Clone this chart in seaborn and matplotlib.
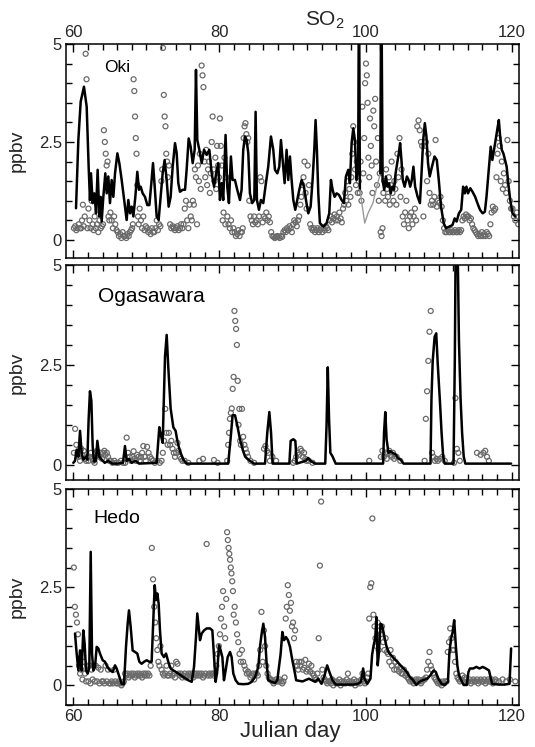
import numpy as np
import pandas as pd
import matplotlib
matplotlib.use("Agg")
import matplotlib.pyplot as plt
import seaborn as sns
from matplotlib.ticker import MultipleLocator, FixedLocator

# ---------------- data ----------------
# Model SO2 (ppbv) as (Julian day, value) points
oki_model = [
    (60.37, 0.81), (60.69, 2.55), (61.01, 3.53), (61.46, 3.91), (61.83, 3.40), (62.10, 1.87),
    (62.28, 1.02), (62.42, 1.70), (62.65, 0.94), (62.88, 1.19), (63.11, 0.68), (63.33, 1.79),
    (63.56, 0.60), (63.74, 1.10), (63.88, 0.47), (64.11, 1.10), (64.38, 1.70), (64.57, 1.19),
    (64.79, 1.62), (65.02, 0.94), (65.25, 1.53), (65.48, 1.10), (65.71, 1.70), (66.03, 2.21),
    (66.30, 1.96), (66.62, 1.53), (66.85, 1.19), (67.07, 0.85), (67.30, 0.51), (67.53, 1.02),
    (67.76, 0.68), (67.99, 0.85), (68.22, 0.60), (68.49, 1.10), (68.76, 1.74), (68.99, 1.28),
    (69.22, 1.36), (69.49, 1.19), (69.81, 1.10), (70.13, 0.89), (70.41, 0.89), (70.68, 1.45),
    (70.91, 1.96), (71.14, 1.36), (71.41, 0.60), (71.68, 0.51), (71.96, 1.10), (72.23, 1.70),
    (72.50, 2.04), (72.78, 1.53), (73.05, 0.85), (73.32, 1.10), (73.60, 1.87), (73.92, 2.47),
    (74.15, 2.21), (74.37, 1.45), (74.60, 1.23), (74.97, 1.28), (75.29, 1.28), (75.51, 1.79),
    (75.79, 2.59), (76.06, 2.38), (76.34, 1.96), (76.61, 2.30), (76.79, 4.34), (76.97, 2.55),
    (77.25, 2.30), (77.57, 1.96), (77.89, 2.30), (78.25, 2.17), (78.62, 2.30), (78.94, 1.70),
    (79.26, 1.36), (79.55, 1.70), (79.84, 1.96), (80.07, 1.02), (80.30, 1.45), (80.52, 1.02),
    (80.84, 2.68), (81.07, 1.36), (81.30, 0.94), (81.57, 2.13), (81.80, 1.53), (82.12, 1.53),
    (82.44, 1.28), (82.81, 1.02), (83.03, 1.28), (83.26, 2.30), (83.49, 2.64), (83.72, 2.55),
    (83.95, 2.21), (84.17, 1.19), (84.49, 0.94), (84.77, 1.02), (84.95, 3.27), (85.13, 1.02),
    (85.41, 0.77), (85.68, 1.02), (86.00, 0.94), (86.36, 1.45), (86.68, 1.87), (87.05, 2.64),
    (87.37, 2.30), (87.60, 1.79), (87.92, 1.70), (88.19, 1.87), (88.42, 2.55), (88.65, 2.04),
    (88.92, 1.45), (89.19, 2.30), (89.42, 1.53), (89.65, 2.13), (89.88, 1.53), (90.11, 1.02),
    (90.38, 0.77), (90.65, 1.02), (90.93, 1.28), (91.25, 1.53), (91.57, 1.36), (91.84, 1.02),
    (92.16, 0.68), (92.48, 0.85), (92.75, 1.53), (92.98, 2.30), (93.16, 3.06), (93.34, 2.30),
    (93.53, 1.19), (93.75, 0.43), (94.21, 0.34), (94.67, 0.43), (95.03, 0.68), (95.26, 1.53),
    (95.49, 1.28), (95.76, 1.10), (96.04, 1.19), (96.36, 1.15), (96.72, 1.02), (97.04, 0.94),
    (97.31, 1.62), (97.63, 1.79), (97.86, 1.45), (98.09, 2.47), (98.32, 2.85), (98.54, 2.55),
    (98.77, 1.53), (98.99, 1.87), (99.10, 7.00), (99.22, 1.28), (99.89, 0.43), (100.33, 0.68),
    (101.00, 0.94), (101.66, 1.45), (102.02, 1.70), (102.15, 7.00), (102.33, 1.53), (102.55, 1.28),
    (102.78, 1.62), (103.00, 1.36), (103.22, 1.45), (103.44, 1.19), (103.66, 1.36), (103.89, 1.28),
    (104.11, 1.70), (104.33, 1.96), (104.55, 2.21), (104.73, 2.47), (104.91, 2.04), (105.09, 1.53),
    (105.35, 1.36), (105.66, 1.62), (105.89, 1.53), (106.11, 1.36), (106.33, 1.53), (106.55, 1.87),
    (106.78, 1.36), (107.13, 1.10), (107.44, 0.94), (107.66, 1.70), (107.89, 2.55), (108.11, 2.98),
    (108.33, 2.64), (108.55, 1.96), (108.78, 1.62), (109.09, 1.87), (109.44, 2.13), (109.75, 2.04),
    (110.02, 1.53), (110.33, 0.85), (110.69, 0.43), (111.00, 0.30), (111.44, 0.34), (111.89, 0.38),
    (112.20, 0.55), (112.46, 0.47), (112.78, 0.68), (113.09, 0.77), (113.35, 1.36), (113.58, 1.19),
    (113.80, 1.36), (114.02, 1.19), (114.33, 1.32), (114.64, 1.23), (115.00, 1.10), (115.31, 0.94),
    (115.66, 0.77), (116.02, 0.68), (116.33, 0.72), (116.55, 1.10), (116.86, 1.79), (117.13, 2.38),
    (117.35, 2.04), (117.58, 2.30), (117.80, 2.55), (118.02, 2.81), (118.24, 3.06), (118.42, 2.64),
    (118.64, 2.30), (118.86, 2.21), (119.09, 2.04), (119.31, 1.87), (119.53, 1.45), (119.80, 1.02),
    (120.11, 0.68), (120.46, 0.60),
]
# stretch of the Oki model trace printed faintly between the two off-scale peaks
oki_faint_span = (99.22, 102.02)

ogasawara_model = [
    (60.00, 0.05), (60.23, 0.10), (60.46, 0.38), (60.69, 0.20), (60.92, 0.85), (61.14, 0.30),
    (61.37, 0.13), (61.74, 0.20), (61.92, 0.13), (62.10, 1.15), (62.28, 1.84), (62.47, 1.60),
    (62.65, 0.47), (62.83, 0.08), (63.10, 0.10), (63.29, 0.60), (63.56, 0.20), (63.88, 0.13),
    (64.30, 0.05), (64.80, 0.10), (65.30, 0.03), (66.00, 0.03), (66.80, 0.05), (67.07, 0.47),
    (67.30, 0.10), (67.60, 0.15), (68.00, 0.05), (68.50, 0.10), (69.00, 0.03), (71.41, 0.05),
    (71.77, 0.94), (72.00, 0.73), (72.23, 0.55), (72.55, 2.70), (72.78, 3.25), (73.00, 2.44),
    (73.32, 1.41), (73.69, 0.94), (74.00, 0.85), (74.28, 0.56), (74.60, 0.34), (75.06, 0.13),
    (75.50, 0.03), (81.20, 0.03), (81.52, 0.64), (81.80, 1.24), (82.13, 1.24), (82.45, 0.98),
    (82.81, 0.64), (83.18, 0.38), (83.50, 0.21), (83.95, 0.13), (84.73, 0.03), (86.24, 0.03),
    (86.55, 0.81), (86.83, 1.32), (87.06, 0.81), (87.28, 0.03), (89.57, 0.03), (89.75, 0.60),
    (90.11, 0.64), (90.39, 0.60), (90.57, 0.03), (91.80, 0.10), (92.15, 0.17), (92.45, 0.10),
    (93.10, 0.03), (94.48, 0.03), (94.66, 0.98), (94.83, 2.44), (95.00, 1.16), (95.18, 0.30),
    (95.48, 0.21), (95.91, 0.03), (102.40, 0.03), (102.53, 0.81), (102.70, 1.32), (102.88, 0.64),
    (103.13, 0.30), (103.39, 0.34), (103.70, 0.30), (104.13, 0.26), (104.43, 0.17), (104.78, 0.13),
    (105.21, 0.03), (108.89, 0.03), (109.02, 1.67), (109.19, 2.60), (109.45, 3.20), (109.67, 3.29),
    (109.88, 2.52), (110.18, 1.58), (110.40, 0.81), (110.62, 0.21), (110.83, 0.03), (112.04, 0.03),
    (112.22, 2.70), (112.35, 6.00), (112.56, 6.00), (112.78, 3.12), (113.00, 1.67), (113.21, 0.81),
    (113.43, 0.21), (113.65, 0.03), (119.92, 0.03),
]

hedo_model = [
    (60.23, 1.32), (60.46, 0.81), (60.69, 0.38), (60.92, 0.89), (61.14, 0.38), (61.37, 1.40),
    (61.55, 1.06), (61.74, 0.38), (61.97, 0.30), (62.19, 0.47), (62.38, 3.40), (62.56, 0.81),
    (62.74, 0.38), (62.97, 0.47), (63.20, 0.98), (63.43, 0.94), (63.65, 0.81), (64.02, 0.64),
    (64.34, 0.60), (64.66, 0.47), (65.02, 0.38), (65.39, 0.34), (65.71, 0.51), (65.93, 0.43),
    (66.16, 0.30), (66.39, 0.17), (66.62, 0.04), (66.94, 0.03), (67.21, 0.98), (67.44, 1.57),
    (67.62, 1.91), (67.85, 1.49), (68.12, 0.89), (68.44, 0.85), (68.76, 0.81), (69.04, 0.60),
    (69.36, 0.55), (69.68, 0.60), (70.04, 0.64), (70.41, 0.60), (70.72, 0.60), (70.95, 1.66),
    (71.14, 2.55), (71.32, 2.17), (71.50, 2.34), (71.68, 2.08), (71.86, 1.40), (72.09, 0.81),
    (72.41, 0.72), (72.69, 0.81), (73.00, 0.60), (73.32, 0.43), (73.69, 0.38), (74.05, 0.34),
    (74.37, 0.30), (74.69, 0.26), (75.06, 0.21), (75.42, 0.17), (75.74, 0.13), (76.20, 0.09),
    (76.52, 0.47), (76.79, 1.23), (76.97, 1.83), (77.15, 1.49), (77.34, 1.15), (77.57, 1.32),
    (77.89, 1.40), (78.25, 1.45), (78.71, 1.45), (79.03, 1.40), (79.26, 0.72), (79.48, 0.09),
    (79.71, 0.38), (79.94, 1.02), (80.17, 0.89), (80.40, 0.72), (80.62, 0.13), (80.85, 0.38),
    (81.13, 0.72), (81.45, 0.85), (81.67, 0.72), (81.90, 0.30), (82.22, 0.13), (82.59, 0.04),
    (83.27, 0.03), (83.95, 0.04), (84.41, 0.09), (84.87, 0.21), (85.32, 0.47), (85.55, 0.98),
    (85.78, 1.32), (86.01, 1.57), (86.24, 1.23), (86.46, 0.55), (86.69, 0.13), (87.15, 0.09),
    (87.60, 0.06), (87.92, 0.13), (88.15, 0.47), (88.38, 0.81), (88.61, 1.36), (88.84, 1.15),
    (89.11, 1.23), (89.38, 1.15), (89.66, 0.98), (89.98, 0.64), (90.34, 0.30), (90.50, 0.13),
    (91.37, 0.10), (92.24, 0.17), (93.10, 0.09), (93.53, 0.17), (93.97, 0.04), (94.40, 0.26),
    (94.74, 0.51), (95.05, 0.34), (95.48, 0.13), (95.91, 0.02), (98.29, 0.02), (98.94, 0.04),
    (99.37, 0.09), (99.67, 0.43), (99.85, 0.17), (100.24, 0.04), (100.67, 0.17), (100.89, 0.77),
    (101.10, 1.02), (101.32, 1.19), (101.49, 1.74), (101.66, 0.51), (101.84, 0.85), (102.05, 1.57),
    (102.27, 1.53), (102.53, 1.28), (102.83, 1.02), (103.13, 0.85), (103.48, 0.77), (103.91, 0.68),
    (104.35, 0.60), (104.78, 0.51), (105.21, 0.43), (105.64, 0.34), (106.08, 0.21), (106.51, 0.13),
    (106.94, 0.01), (107.37, 0.09), (107.81, 0.13), (108.45, 0.17), (108.89, 0.26), (109.32, 0.38),
    (109.62, 0.34), (109.97, 0.17), (110.40, 0.04), (110.83, 0.01), (111.27, 0.09), (111.48, 0.85),
    (111.70, 1.19), (111.92, 1.36), (112.13, 1.66), (112.35, 1.02), (112.56, 0.51), (112.78, 0.26),
    (113.00, 0.17), (113.43, 0.01), (113.86, 0.01), (114.08, 0.34), (114.29, 0.43), (114.73, 0.43),
    (115.16, 0.47), (115.60, 0.43), (116.03, 0.47), (116.46, 0.43), (116.89, 0.38), (117.32, 0.04),
    (118.19, 0.02), (119.05, 0.02), (119.70, 0.04), (119.92, 0.94),
]

# Observed SO2 (ppbv): readings within each Julian day, in time order
oki_obs = {
    60: [0.30, 0.35, 0.25, 0.30, 0.40, 0.30],
    61: [0.30, 0.50, 0.90, 0.35, 0.60, 4.75, 4.10, 0.30],
    62: [0.80, 0.50, 0.30, 1.00, 0.40, 0.25, 0.60],
    63: [0.30, 0.40, 0.20, 0.50, 0.30, 0.35],
    64: [0.40, 2.80, 2.50, 2.20, 1.90, 2.00, 0.60, 0.50],
    65: [0.70, 0.50, 0.30, 0.60, 0.40, 0.25],
    66: [0.20, 0.10, 0.15, 0.05, 0.20, 0.10],
    67: [0.10, 0.05, 0.15, 0.10, 0.20, 0.25],
    68: [0.30, 0.40, 4.10, 3.80, 3.15, 2.60, 2.20, 1.40, 0.60, 0.40],
    69: [0.80, 0.50, 0.30, 0.60, 0.25, 0.35],
    70: [0.30, 0.20, 0.25, 0.15, 0.30, 0.20],
    71: [0.20, 0.30, 0.50, 0.25, 0.40, 0.35],
    72: [1.50, 1.80, 4.90, 3.70, 3.15, 2.90, 2.20, 2.00, 1.60],
    73: [1.90, 0.40, 0.30, 0.35, 0.30, 0.25],
    74: [0.30, 0.35, 0.25, 0.30, 0.40, 0.30],
    75: [0.40, 0.80, 1.00, 0.50, 0.30, 0.90],
    76: [0.60, 0.50, 1.00, 0.90, 1.80, 1.60, 0.40],
    77: [1.90, 1.50, 2.20, 1.30, 4.45, 4.20, 3.90, 2.00],
    78: [1.60, 2.30, 1.40, 1.80, 2.00, 1.20, 1.70, 2.50],
    79: [3.15, 1.80, 1.50, 2.10, 1.30, 2.40, 1.90, 1.60],
    80: [3.10, 2.40, 1.90, 0.50, 0.70, 2.10, 0.40, 1.60],
    81: [0.60, 0.40, 0.30, 0.50, 0.20, 0.30],
    82: [0.20, 0.10, 0.15, 0.25, 0.10, 0.20],
    83: [0.20, 0.30, 2.60, 2.90, 2.98, 2.70, 2.50, 2.60],
    84: [1.00, 0.60, 0.50, 0.40, 0.60, 0.45],
    85: [0.50, 0.40, 0.60, 1.60, 1.50, 0.45],
    86: [0.60, 0.55, 0.70, 0.50, 0.60, 0.45],
    87: [0.20, 0.10, 0.08, 0.05, 0.08, 0.10],
    88: [0.08, 0.05, 0.10, 0.08, 0.20, 0.25],
    89: [0.20, 0.30, 0.25, 0.35, 0.30, 0.20],
    90: [0.40, 0.50, 0.45, 0.35, 0.50, 0.60],
    91: [0.90, 1.10, 1.40, 1.60, 2.00, 1.20, 0.80],
    92: [1.90, 1.40, 0.40, 0.30, 0.25, 0.30],
    93: [0.20, 0.25, 0.30, 0.20, 0.25, 0.30],
    94: [0.20, 0.30, 0.25, 0.35, 0.30, 0.25],
    95: [0.50, 0.60, 0.45, 0.55, 0.65, 0.50],
    96: [0.60, 0.50, 0.70, 0.55, 0.45, 0.80],
    97: [0.90, 1.20, 1.00, 1.50, 0.90, 1.30, 1.10],
    98: [1.60, 2.20, 2.90, 2.50, 1.80, 1.40, 2.00, 1.20],
    99: [1.50, 1.20, 2.00, 1.00, 3.40, 1.70, 2.60, 4.00],
    100: [4.50, 4.20, 3.50, 2.10, 1.60, 3.10, 2.40, 1.90, 1.20],
    101: [3.30, 2.90, 3.60, 2.00, 1.40, 2.60, 1.00, 1.70],
    102: [0.20, 0.10, 0.30, 1.20, 1.50, 1.00, 1.80, 1.30],
    103: [1.10, 1.60, 0.90, 1.40, 2.00, 1.20, 1.00, 1.50],
    104: [1.30, 0.90, 2.20, 1.60, 2.60, 1.10, 1.80],
    105: [0.60, 0.40, 0.70, 1.00, 0.50, 0.30],
    106: [0.60, 0.70, 0.40, 0.60, 0.80, 0.50],
    107: [2.90, 3.05, 2.80, 2.50, 2.40, 0.60],
    108: [2.40, 2.50, 1.50, 2.20, 1.20, 0.90],
    109: [1.00, 0.90, 1.10, 2.55, 0.85, 1.00],
    110: [0.95, 1.10, 0.85, 0.50, 0.30, 0.20],
    111: [0.20, 0.25, 0.20, 0.20, 0.25, 0.20],
    112: [0.20, 0.25, 0.20, 0.20, 0.25, 0.20],
    113: [0.25, 0.50, 0.60, 0.55, 0.65, 0.60],
    114: [0.60, 0.50, 0.55, 0.40, 0.30, 0.25],
    115: [0.20, 0.15, 0.10, 0.15, 0.10, 0.20],
    116: [0.10, 0.15, 0.10, 0.20, 0.15, 0.10],
    117: [0.40, 0.70, 0.85, 0.75, 0.80, 1.60],
    118: [2.20, 2.60, 2.40, 1.50, 2.00, 1.30, 1.70],
    119: [1.40, 1.20, 2.55, 1.50, 1.00, 0.80],
    120: [0.80, 0.60, 0.50, 0.70, 0.40],
}

ogasawara_obs = {
    60: [0.30, 0.90, 0.50, 0.30, 0.20, 0.10],
    61: [0.40, 0.25, 0.35, 0.15, 0.10, 0.20],
    62: [0.10, 0.20, 0.30, 0.15, 0.10, 0.05],
    63: [0.30, 0.35, 0.25, 0.20, 0.30, 0.15],
    64: [0.30, 0.35, 0.25, 0.30, 0.20, 0.10],
    65: [0.10, 0.05, 0.10, 0.05],
    66: [0.05, 0.10, 0.05],
    67: [0.05, 0.68, 0.30, 0.20, 0.10],
    68: [0.20, 0.34, 0.15, 0.10, 0.25, 0.20],
    69: [0.10, 0.20, 0.30, 0.47, 0.20, 0.10],
    70: [0.45, 0.30, 0.20, 0.15, 0.10],
    71: [0.05, 0.10, 0.05],
    72: [0.10, 0.30, 0.60, 1.40, 0.80, 0.50],
    73: [0.80, 0.50, 0.60, 0.40, 0.30, 0.20],
    74: [0.30, 0.55, 0.35, 0.20, 0.15, 0.10],
    75: [0.10, 0.05],
    77: [0.10, 0.15],
    79: [0.12, 0.05],
    81: [0.10, 0.50, 0.80, 1.15, 1.30, 1.41, 1.90, 2.20],
    82: [3.85, 3.60, 3.40, 3.00, 2.10, 1.00, 1.40, 0.60, 0.50],
    83: [1.40, 0.70, 0.50, 0.40, 0.30, 0.20],
    84: [0.10, 0.05],
    86: [0.40, 0.47, 0.35, 0.30, 0.10],
    87: [0.20, 0.10],
    90: [0.05, 0.10, 0.20, 0.30, 0.25],
    91: [0.40, 0.35, 0.20, 0.30, 0.15, 0.10],
    92: [0.10, 0.05],
    100: [0.10],
    102: [0.20, 0.35, 0.20, 0.30, 0.15],
    103: [0.30, 0.35, 0.25, 0.20, 0.30, 0.15],
    104: [0.20, 0.10],
    108: [0.10, 1.15, 1.84, 2.60, 3.33, 3.85],
    109: [0.30, 0.20, 0.10, 0.15, 0.10],
    110: [0.15, 0.20, 0.10],
    112: [0.05, 1.67, 0.40, 0.30, 0.10],
    115: [0.30, 0.25],
    116: [0.30, 0.35, 0.20, 0.10],
}

hedo_obs = {
    60: [3.00, 2.00, 1.80, 1.60, 1.30, 0.50, 0.30],
    61: [0.40, 0.15, 0.60, 0.30, 0.10, 0.50],
    62: [0.10, 0.50, 0.05, 0.40, 0.15, 0.50, 0.10],
    63: [0.50, 0.10, 0.45, 0.05, 0.40, 0.10],
    64: [0.10, 0.05, 0.50, 0.10, 0.40, 0.05],
    65: [0.05, 0.10, 0.05, 0.40, 0.10, 0.05],
    66: [0.05, 0.10, 0.05, 0.00, 0.05, 0.10],
    67: [0.30, 0.25, 0.30, 0.20, 0.25, 0.30],
    68: [0.25, 0.30, 0.20, 0.25, 0.30, 0.25],
    69: [0.30, 0.25, 0.20, 0.30, 0.25, 0.30],
    70: [0.25, 0.30, 0.25, 0.50, 3.50, 2.70],
    71: [2.00, 1.60, 1.20, 0.90, 0.60, 0.50, 1.00],
    72: [0.40, 0.30, 0.25, 0.30, 0.50, 0.25],
    73: [0.25, 0.30, 0.50, 0.25, 0.30, 0.20],
    74: [0.60, 0.55, 0.30, 0.25, 0.30, 0.20],
    75: [0.25, 0.30, 0.20, 0.25, 0.30, 0.25],
    76: [0.30, 0.25, 0.20, 0.30, 0.25, 0.30],
    77: [0.25, 0.30, 0.25, 0.30, 0.20, 0.25],
    78: [0.30, 3.60, 0.25, 0.30, 0.25, 0.30],
    79: [0.30, 0.25, 0.30, 0.50, 0.80, 1.00],
    80: [1.30, 1.70, 2.00, 2.40, 1.50, 1.20, 2.20],
    81: [3.90, 3.70, 3.50, 3.35, 3.20, 3.00, 2.85, 2.65, 2.40, 1.80],
    82: [2.00, 1.60, 1.30, 1.10, 0.80, 0.60],
    83: [0.90, 0.60, 0.50, 0.40, 0.30, 0.35],
    84: [0.30, 0.20, 0.25, 0.30, 0.15, 0.30],
    85: [0.30, 0.25, 0.50, 0.90, 1.87, 0.60],
    86: [1.40, 1.00, 0.50, 0.30, 0.20, 0.15],
    87: [0.15, 0.10, 0.05, 0.10, 0.15, 0.10],
    88: [0.10, 0.15, 0.10, 0.05, 0.10, 0.20],
    89: [1.70, 2.00, 2.55, 2.30, 1.90, 2.10, 1.50],
    90: [1.60, 1.20, 1.40, 0.60, 0.50, 0.40, 0.60],
    91: [0.50, 0.60, 0.40, 0.45, 0.65, 0.35],
    92: [0.40, 0.55, 0.35, 0.50, 0.30, 0.25],
    93: [0.20, 0.15, 0.30, 1.20, 3.05, 4.68],
    94: [0.40, 0.20, 0.15, 0.10, 0.05, 0.10],
    95: [0.10, 0.05, 0.15, 0.00, 0.10, 0.05],
    96: [0.10, 0.05, 0.15, 0.00, 0.10, 0.05],
    97: [0.10, 0.05, 0.15, 0.30, 0.10, 0.05],
    98: [0.10, 0.05, 0.15, 0.00, 0.10, 0.05],
    99: [0.10, 0.05, 0.15, 0.30, 0.10, 0.05],
    100: [0.10, 0.20, 0.30, 1.70, 2.50, 2.60, 4.25],
    101: [1.80, 1.50, 1.20, 1.00, 1.60, 0.90, 1.40],
    102: [1.30, 1.50, 1.10, 0.90, 1.20, 0.85],
    103: [0.80, 0.60, 0.90, 0.50, 0.70, 0.40],
    104: [0.60, 0.40, 0.50, 0.35, 0.45, 0.30],
    105: [0.30, 0.40, 0.25, 0.30, 0.20, 0.15],
    106: [0.10, 0.15, 0.10, 0.05, 0.10, 0.15],
    107: [0.10, 0.15, 0.10, 0.05, 0.10, 0.15],
    108: [0.15, 0.20, 0.40, 0.60, 0.85, 0.50],
    109: [0.40, 0.30, 0.20, 0.15, 0.10, 0.05],
    110: [0.10, 0.05, 0.00, 0.10, 0.05, 0.10],
    111: [0.10, 0.85, 1.10, 1.45, 1.20, 0.90],
    112: [0.90, 0.60, 0.30, 0.20, 0.15, 0.10],
    113: [0.15, 0.25, 0.10, 0.20, 0.15, 0.10],
    114: [0.10, 0.15, 0.05, 0.10, 0.15, 0.10],
    115: [0.10, 0.15, 0.05, 0.10, 0.15, 0.10],
    116: [0.10, 0.15, 0.05, 0.10, 0.15, 0.10],
    117: [0.10, 0.15, 0.05, 0.10, 0.15, 0.10],
    118: [0.10, 0.15],
    119: [0.10, 0.15],
    120: [0.10],
}

stations = ["Oki", "Ogasawara", "Hedo"]
models = [oki_model, ogasawara_model, hedo_model]
faint_spans = [oki_faint_span, None, None]
observations = [oki_obs, ogasawara_obs, hedo_obs]
x_tick_labels = [60, 80, 100, 120]
y_tick_labels = [0, 2.5, 5]


def obs_frame(by_day):
    rows = []
    for day, vals in by_day.items():
        n = len(vals)
        for i, v in enumerate(vals):
            rows.append((day + (i + 0.5) / n, v))
    return pd.DataFrame(rows, columns=["day", "ppbv"])


def model_frame(points):
    return pd.DataFrame(points, columns=["day", "ppbv"])


# ---------------- style ----------------
sns.set_style("ticks")
plt.rcParams["font.family"] = ["Liberation Sans", "DejaVu Sans"]
plt.rcParams["mathtext.fontset"] = "custom"
plt.rcParams["mathtext.rm"] = "Liberation Sans"

fig = plt.figure(figsize=(5.35, 7.47), dpi=100)

W = 535.0
H = 747.0
left, right = 66, 519
panel_rows = [(44, 258), (265, 480), (489, 705)]
ylims = [(-0.46, 5), (-0.38, 5), (-0.5, 5)]
name_pos = [(0.085, 0.89, 12.5), (0.07, 0.855, 15), (0.06, 0.865, 14)]

axes = []
for k, (top, bot) in enumerate(panel_rows):
    ax = fig.add_axes([left / W, 1 - bot / H, (right - left) / W, (bot - top) / H])
    axes.append(ax)

    obs = obs_frame(observations[k])
    sns.scatterplot(data=obs, x="day", y="ppbv", ax=ax, marker="o", s=13,
                    linewidth=0.9, legend=False, zorder=2)
    pc = ax.collections[-1]
    pc.set_facecolor("none")
    pc.set_edgecolor("#6a6a6a")

    mod = model_frame(models[k])
    span = faint_spans[k]
    if span is None:
        pieces = [(mod, "black", 1.8)]
    else:
        a, b = span
        pieces = [(mod[mod.day <= a], "black", 1.8),
                  (mod[(mod.day >= a) & (mod.day <= b)], "#9a9a9a", 1.0),
                  (mod[mod.day >= b], "black", 1.8)]
    for part, col, lw in pieces:
        sns.lineplot(data=part, x="day", y="ppbv", ax=ax, sort=False, estimator=None,
                     color=col, linewidth=lw, legend=False, zorder=3)

    ax.set_xlim(59, 121)
    ax.set_ylim(*ylims[k])
    ax.xaxis.set_major_locator(FixedLocator(x_tick_labels))
    ax.xaxis.set_minor_locator(MultipleLocator(2))
    ax.yaxis.set_major_locator(FixedLocator(y_tick_labels))
    ax.yaxis.set_minor_locator(MultipleLocator(0.5))
    ax.set_yticklabels(["0", "2.5", "5"])
    ax.tick_params(which="both", direction="in", top=True, right=True,
                   labelsize=12, pad=3, width=1.0, color="black")
    ax.tick_params(which="major", length=6)
    ax.tick_params(which="minor", length=4)
    for sp in ax.spines.values():
        sp.set_linewidth(1.1)
        sp.set_color("black")

    ax.set_xlabel("")
    ax.set_ylabel("ppbv", fontsize=14, labelpad=2)
    ax.yaxis.set_label_coords(-0.088, 0.5)

    nx, ny, fs = name_pos[k]
    ax.text(nx, ny, stations[k], transform=ax.transAxes, fontsize=fs,
            ha="left", va="center", color="black")

    if k == 0:
        ax.tick_params(axis="x", labeltop=True, labelbottom=False)
    elif k == 1:
        ax.tick_params(axis="x", labeltop=False, labelbottom=False)
    else:
        ax.tick_params(axis="x", labeltop=False, labelbottom=True)

fig.text(325 / W, 1 - 20 / H, r"$\mathregular{SO_2}$", fontsize=15, ha="center", va="center")
fig.text(290 / W, 1 - 731 / H, "Julian day", fontsize=16, ha="center", va="center")

fig.savefig("out.png", dpi=100)
